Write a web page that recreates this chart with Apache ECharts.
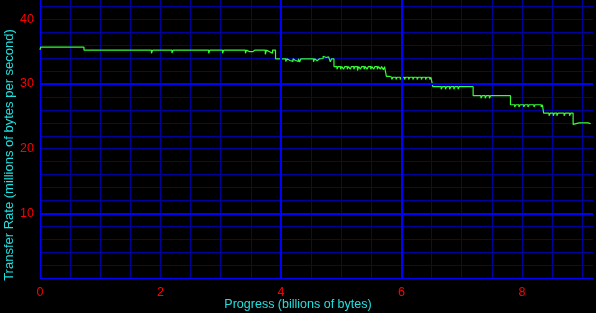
<!DOCTYPE html>
<html>
<head>
<meta charset="utf-8">
<script src="https://cdn.jsdelivr.net/npm/echarts@6/dist/echarts.min.js"></script>
<style>
html,body{margin:0;padding:0;background:#000;}
#chart{width:596px;height:313px;}
</style>
</head>
<body>
<div id="chart"></div>
<script>
// Progress in billions of bytes
const progress = [
  0.00, 0.01,
  0.31, 0.33, 0.36, 0.38, 0.41, 0.43, 0.45, 0.47, 0.50, 0.52, 0.55, 0.57,
  0.73,
  1.23, 1.25, 1.27, 1.29, 1.31, 1.33, 1.38, 1.40, 1.45, 1.47, 1.61, 1.63, 1.85, 1.87,
  2.19, 2.21, 2.32, 2.34, 2.53, 2.55, 2.58, 2.60, 2.63, 2.65, 2.68, 2.70, 2.80, 2.82,
  2.86, 2.88, 2.92, 2.94, 2.97, 2.99, 3.03, 3.05, 3.09, 3.11, 3.14, 3.16, 3.20, 3.22,
  3.26, 3.28, 3.32, 3.34, 3.41, 3.43, 3.46, 3.48, 3.51, 3.53, 3.57, 3.59, 3.63, 3.65,
  3.68, 3.70, 3.74, 3.76, 3.79, 3.81, 3.84, 3.86,
  3.91,
  4.08, 4.10, 4.13, 4.15, 4.18, 4.20, 4.22, 4.24, 4.27, 4.29, 4.31, 4.33,
  4.54, 4.56, 4.58, 4.60, 4.62, 4.64, 4.67, 4.70, 4.72, 4.75, 4.79, 4.82, 4.84,
  4.88,
  4.93, 4.95, 4.99, 5.01, 5.04, 5.06, 5.10, 5.12, 5.15, 5.17, 5.21, 5.23, 5.27, 5.29,
  5.32, 5.34, 5.38, 5.40, 5.43, 5.45, 5.49, 5.51, 5.54, 5.56, 5.60, 5.62, 5.65, 5.67, 5.70, 5.72,
  5.75, 5.80,
  5.84, 5.86, 5.91, 5.93, 5.98, 6.00, 6.05, 6.07, 6.12, 6.14,
  6.19, 6.21, 6.26, 6.28, 6.33, 6.35, 6.40, 6.42, 6.47, 6.49,
  6.52,
  6.66, 6.68, 6.73, 6.75, 6.80, 6.82, 6.87, 6.89, 6.94, 6.96,
  7.19,
  7.32, 7.34, 7.39, 7.41, 7.46, 7.48,
  7.81,
  7.88, 7.90, 7.95, 7.97, 8.03, 8.05, 8.10, 8.12, 8.20, 8.22, 8.32, 8.34,
  8.36,
  8.45, 8.47, 8.52, 8.54, 8.58, 8.60, 8.70, 8.72, 8.79, 8.81,
  8.85, 8.87,
  8.95, 8.97, 9.03, 9.05, 9.10, 9.14
];
// Transfer rate in millions of bytes per second
const rate = [
  35.3, 35.7,
  35.5, 35.7, 35.5, 35.7, 35.5, 35.7, 35.5, 35.7, 35.5, 35.7, 35.5, 35.7,
  35.25,
  35.0, 35.25, 35.0, 35.25, 35.0, 35.25, 35.0, 35.25, 35.0, 35.25, 35.0, 35.25, 34.75, 35.25,
  34.8, 35.25, 35.0, 35.25, 35.0, 35.25, 35.0, 35.25, 35.0, 35.25, 35.0, 35.25, 34.75, 35.25,
  35.0, 35.25, 35.0, 35.25, 35.0, 35.25, 34.75, 35.25, 35.0, 35.25, 35.0, 35.25, 35.0, 35.25,
  35.0, 35.25, 35.0, 35.25, 34.75, 35.25, 35.0, 35.25, 35.0, 35.25, 35.0, 35.25, 35.0, 35.25,
  35.0, 35.25, 34.6, 35.25, 35.0, 35.25, 34.75, 35.25,
  33.9,
  33.5, 33.9, 33.65, 33.9, 33.5, 33.9, 33.65, 33.9, 33.5, 33.9, 33.4, 33.9,
  33.45, 33.9, 33.6, 33.4, 33.9, 34.15, 33.95, 34.3, 34.1, 34.2, 33.9, 33.45, 33.9,
  32.7,
  32.3, 32.7, 32.3, 32.7, 32.3, 32.7, 32.3, 32.7, 32.3, 32.7, 32.3, 32.7, 32.1, 32.7,
  32.3, 32.7, 32.3, 32.7, 32.3, 32.7, 32.3, 32.7, 32.3, 32.7, 32.3, 32.7, 32.3, 32.7, 32.2, 32.7,
  31.2, 31.05,
  30.7, 31.05, 30.7, 31.05, 30.7, 31.05, 30.7, 31.05, 30.7, 31.05,
  30.7, 31.05, 30.7, 31.05, 30.7, 31.05, 30.7, 31.05, 30.7, 31.05,
  29.6,
  29.2, 29.6, 29.2, 29.6, 29.2, 29.6, 29.2, 29.6, 29.2, 29.6,
  28.2,
  27.8, 28.2, 27.8, 28.2, 27.8, 28.2,
  26.8,
  26.45, 26.8, 26.45, 26.8, 26.45, 26.8, 26.45, 26.8, 26.45, 26.8, 26.45, 26.8,
  25.5,
  25.1, 25.5, 25.1, 25.5, 25.1, 25.5, 25.1, 25.5, 25.1, 25.5,
  23.75, 24.0,
  23.7, 24.0, 23.7, 24.0, 23.85, 23.95
];
const xTickLabels = [0, 2, 4, 6, 8];
const yTickLabels = [10, 20, 30, 40];
const xTitle = 'Progress (billions of bytes)';
const yTitle = 'Transfer Rate (millions of bytes per second)';

const seriesData = progress.map((x, i) => [x, rate[i]]);
const near = (v, list) => list.some(t => Math.abs(v - t) < 1e-6);

const chart = echarts.init(document.getElementById('chart'), null, {renderer: 'canvas'});
const FONT = 'Liberation Sans';
chart.setOption({
  backgroundColor: '#000000',
  animation: false,
  grid: {left: 40, right: 0, top: 0, bottom: 35, containLabel: false},
  xAxis: {
    type: 'value', min: 0, max: 9.18, interval: 0.5,
    axisLine: {show: true, onZero: false, lineStyle: {color: '#0000ff', width: 1}},
    axisTick: {show: false},
    axisLabel: {
      interval: 0, margin: 8, color: '#ff0000', fontFamily: FONT, fontSize: 12.5,
      formatter: v => near(v, xTickLabels) ? String(v) : ''
    },
    splitLine: {show: true, showMinLine: false, showMaxLine: false, lineStyle: {color: '#00009c', width: 1}}
  },
  yAxis: {
    type: 'value', min: 0, max: 43, interval: 2,
    axisLine: {show: true, onZero: false, lineStyle: {color: '#0000ff', width: 1}},
    axisTick: {show: false},
    axisLabel: {
      interval: 0, margin: 6, color: '#ff0000', fontFamily: FONT, fontSize: 12.5,
      formatter: v => near(v, yTickLabels) ? String(v) : ''
    },
    splitLine: {show: true, showMinLine: false, showMaxLine: false, lineStyle: {color: '#00009c', width: 1}}
  },
  graphic: [
    {type: 'text', x: 298, y: 305, style: {text: xTitle, fill: '#22e0e0', font: '12.5px "Liberation Sans"', align: 'center', verticalAlign: 'middle'}},
    {type: 'text', x: 9, y: 155, rotation: Math.PI / 2, style: {text: yTitle, fill: '#22e0e0', font: '13px "Liberation Sans"', align: 'center', verticalAlign: 'middle'}}
  ],
  series: [{
    type: 'line', data: seriesData, step: 'end', showSymbol: false, symbol: 'none',
    lineStyle: {color: '#33ff33', width: 1.2},
    markLine: {
      silent: true, symbol: 'none', label: {show: false}, animation: false,
      lineStyle: {color: '#0000ff', width: 2, type: 'solid'},
      data: [{xAxis: 4}, {xAxis: 6}, {yAxis: 10}, {yAxis: 30}]
    },
    z: 3
  }]
});
</script>
</body>
</html>
